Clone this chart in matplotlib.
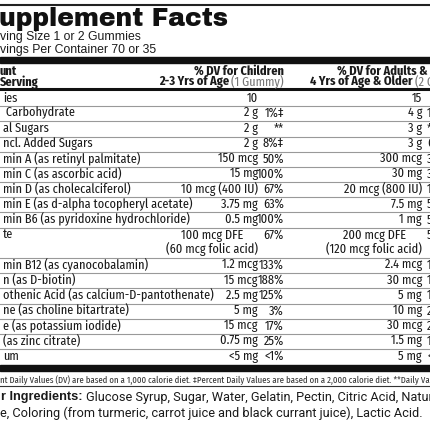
import matplotlib
matplotlib.use("Agg")
import matplotlib.pyplot as plt

NARROW = ['Fira Sans Extra Condensed', 'Roboto Condensed', 'DejaVu Sans']
XNARROW = ['Fira Sans Extra Condensed', 'Roboto Condensed', 'DejaVu Sans']
TITLE = ['Archivo Black', 'DejaVu Sans']
REG = ['Liberation Sans', 'DejaVu Sans']

labels = ["ies", " Carbohydrate", "al Sugars", "ncl. Added Sugars",
          "min A (as retinyl palmitate)", "min C (as ascorbic acid)",
          "min D (as cholecalciferol)", "min E (as d-alpha tocopheryl acetate)",
          "min B6 (as pyridoxine hydrochloride)", "te",
          "min B12 (as cyanocobalamin)", "n (as D-biotin)",
          "othenic Acid (as calcium-D-pantothenate)", "ne (as choline bitartrate)",
          "e (as potassium iodide)", "(as zinc citrate)", "um"]
child_amt = ["10", "2 g", "2 g", "2 g", "150 mcg", "15 mg", "10 mcg (400 IU)", "3.75 mg",
             "0.5 mg", "100 mcg DFE\n(60 mcg folic acid)", "1.2 mcg", "15 mcg", "2.5 mg",
             "5 mg", "15 mcg", "0.75 mg", "<5 mg"]
child_pct = ["", "1%‡", "**", "8%‡", "50%", "100%", "67%", "63%", "100%", "67%", "133%",
             "188%", "125%", "3%", "17%", "25%", "<1%"]
adult_amt = ["15", "4 g", "3 g", "3 g", "300 mcg", "30 mg", "20 mcg (800 IU)", "7.5 mg",
             "1 mg", "200 mcg DFE\n(120 mcg folic acid)", "2.4 mcg", "30 mcg", "5 mg",
             "10 mg", "30 mcg", "1.5 mg", "5 mg"]
adult_pct = ["", "1%", "**", "6%", "33%", "33%", "100%", "50%", "59%", "50%", "100%",
             "100%", "100%", "2%", "20%", "14%", "<1%"]

fig = plt.figure(figsize=(4.3, 4.3), dpi=100)
ax = fig.add_axes([0, 0, 1, 1])
ax.set_xlim(0, 430); ax.set_ylim(430, 0); ax.axis('off')
fig.canvas.draw()
R = fig.canvas.get_renderer()

def width(t):
    bb = t.get_window_extent(R)
    return bb.width  # pixels == data units here

fs = 9.6
C = '#1a1a1a'
ax.plot([0, 430], [5, 5], color='#222', lw=1.5)
ax.text(-1, 19, "upplement Facts", fontsize=18, family=TITLE,
        va='center', ha='left', color='#111')
ax.text(0, 37, "ving Size 1 or 2 Gummies", fontsize=8.8, family=REG, va='center', color=C)
ax.text(0, 50, "vings Per Container 70 or 35", fontsize=8.8, family=REG, va='center', color=C)
ax.add_patch(plt.Rectangle((0, 57), 430, 6, color='#111'))
ax.text(0, 71, "unt", fontsize=fs, fontweight='bold', family=NARROW, va='center', color=C)
ax.text(0, 82, "Serving", fontsize=fs, fontweight='bold', family=NARROW, va='center', color=C)
ax.text(284, 71, "% DV for Children", fontsize=fs, fontweight='bold', family=NARROW, va='center', ha='right', color=C)
g1 = ax.text(284, 82, "(1 Gummy)", fontsize=fs, family=NARROW, va='center', ha='right', color='#777')
ax.text(284 - width(g1) - 2, 82, "2-3 Yrs of Age", fontsize=fs, fontweight='bold', family=NARROW, va='center', ha='right', color=C)
ax.text(337, 71, "% DV for Adults & Children", fontsize=fs, fontweight='bold', family=NARROW, va='center', ha='left', color=C)
a1 = ax.text(310, 82, "4 Yrs of Age & Older", fontsize=fs, fontweight='bold', family=NARROW, va='center', ha='left', color=C)
ax.text(310 + width(a1) + 2, 82, "(2 Gummies)", fontsize=fs, family=NARROW, va='center', ha='left', color='#777')
ax.plot([0, 430], [89, 89], color='#111', lw=2.2)

y = 98
step = 15.2
for i, lab in enumerate(labels):
    two = "\n" in child_amt[i]
    yc = y + (step / 2 if two else 0)
    ax.text(3, y, lab, fontsize=fs, family=NARROW, va='center', color=C)
    ax.text(258, yc, child_amt[i], fontsize=fs, family=NARROW, va='center', ha='right',
            ma='center', linespacing=1.0, color=C)
    ax.text(284, y, child_pct[i], fontsize=fs, family=NARROW, va='center', ha='right', color=C)
    ax.text(422, yc, adult_amt[i], fontsize=fs, family=NARROW, va='center', ha='right',
            ma='center', linespacing=1.0, color=C)
    ax.text(427, y, adult_pct[i], fontsize=fs, family=NARROW, va='center', ha='left', color=C)
    y += 2 * step if two else step
    if i < len(labels) - 1:
        ax.plot([0, 430], [y - step / 2 + 0.5, y - step / 2 + 0.5], color='#999', lw=0.8)

ax.add_patch(plt.Rectangle((0, y - step / 2 + 1.5), 430, 6, color='#111'))
ax.text(0, 380, "nt Daily Values (DV) are based on a 1,000 calorie diet. ‡Percent Daily Values are based on a 2,000 calorie diet. **Daily Value not established.",
        fontsize=6.8, family=XNARROW, va='center', color='#333')
ax.plot([0, 430], [386, 386], color='#333', lw=0.8)
r = ax.text(1, 397, "r Ingredients:", fontsize=9.2, fontweight='bold', family=REG, va='center', color=C)
ax.text(1 + width(r) + 3, 397, "Glucose Syrup, Sugar, Water, Gelatin, Pectin, Citric Acid, Natural Flavors, Sodium",
        fontsize=9.2, family=['Roboto', 'DejaVu Sans'], va='center', color=C)
ax.text(0, 413, "e, Coloring (from turmeric, carrot juice and black currant juice), Lactic Acid.",
        fontsize=9.2, family=['Roboto', 'DejaVu Sans'], va='center', color=C)
fig.savefig("out.png", dpi=100)
